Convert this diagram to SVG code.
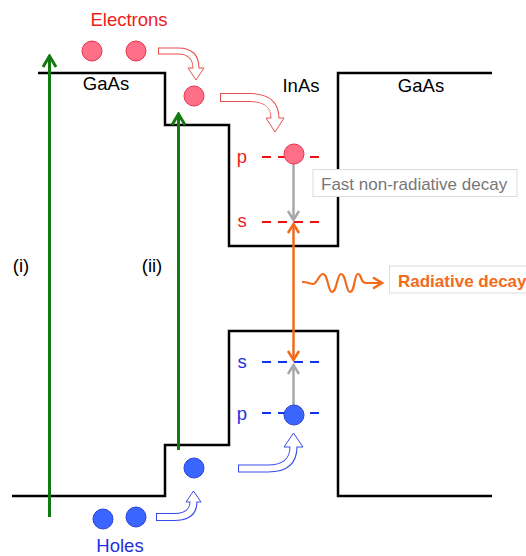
<svg xmlns="http://www.w3.org/2000/svg" width="526" height="556" viewBox="0 0 526 556">
<style>
.band{fill:none;stroke:#000;stroke-width:2.5;stroke-linejoin:miter}
.lbl{font-family:"Liberation Sans",Arial,sans-serif;font-size:18.5px}
.blk{fill:#000}
.red{fill:#ee1c1c}
.blue{fill:#1f2fe0}
.el{fill:#ff7088;stroke:#e8334a;stroke-width:1}
.ho{fill:#3a66ff;stroke:#2a44d8;stroke-width:1}
.dr{fill:none;stroke:#ee1111;stroke-width:2;stroke-dasharray:9 7}
.db{fill:none;stroke:#1133ee;stroke-width:2;stroke-dasharray:9 7}
.green{fill:none;stroke:#117a11;stroke-width:3;marker-end:url(#mg)}
.gray{fill:none;stroke:#a8a8a8;stroke-width:2.5;marker-end:url(#mgr)}
.orange{fill:none;stroke:#f26b1d;stroke-width:2.5}
.box{fill:#fff;stroke:#dcdcdc;stroke-width:1}
.hr{fill:#fff;stroke:#e85050;stroke-width:1}
.hb{fill:#fff;stroke:#3a4ae8;stroke-width:1}
</style>
<defs>
<marker id="mg" viewBox="-14 -9 16 18" markerWidth="16" markerHeight="18" refX="0" refY="0" orient="auto" markerUnits="userSpaceOnUse"><path d="M-11,-6.5 L0,0 L-11,6.5" fill="none" stroke="#117a11" stroke-width="3"/></marker>
<marker id="mgr" viewBox="-14 -9 16 18" markerWidth="16" markerHeight="18" refX="0" refY="0" orient="auto" markerUnits="userSpaceOnUse"><path d="M-9,-5.5 L0,0 L-9,5.5" fill="none" stroke="#a8a8a8" stroke-width="2.5"/></marker>
<marker id="mo" viewBox="-14 -9 16 18" markerWidth="16" markerHeight="18" refX="0" refY="0" orient="auto-start-reverse" markerUnits="userSpaceOnUse"><path d="M-9,-5.5 L0,0 L-9,5.5" fill="none" stroke="#f26b1d" stroke-width="2.5"/></marker>
</defs>

<g id="bands">
<path class="band" d="M38,73 H165 V125 H229 V246 H338 V73 H492"/>
<path class="band" d="M12,496 H165 V445 H229 V331 H338 V496 H492"/>
</g>

<g id="labels">
<text class="lbl blk" x="106" y="90" text-anchor="middle">GaAs</text>
<text class="lbl blk" x="301" y="92" text-anchor="middle">InAs</text>
<text class="lbl blk" x="421" y="92" text-anchor="middle">GaAs</text>
<text class="lbl red" x="129" y="26" text-anchor="middle">Electrons</text>
<text class="lbl blue" x="120" y="552" text-anchor="middle">Holes</text>
<text class="lbl blk" x="21" y="272" text-anchor="middle">(i)</text>
<text class="lbl blk" x="152" y="272" text-anchor="middle">(ii)</text>
<text class="lbl red" x="242" y="163" text-anchor="middle">p</text>
<text class="lbl red" x="242" y="227" text-anchor="middle">s</text>
<text class="lbl blue" x="242" y="368" text-anchor="middle">s</text>
<text class="lbl blue" x="242" y="420" text-anchor="middle">p</text>
</g>

<g id="levels">
<line class="dr" x1="262" y1="157" x2="322" y2="157"/>
<line class="dr" x1="262" y1="222" x2="322" y2="222"/>
<line class="db" x1="262" y1="362" x2="322" y2="362"/>
<line class="db" x1="262" y1="413" x2="322" y2="413"/>
</g>

<g id="connectors">
<line class="green" x1="49.5" y1="517" x2="49.5" y2="56"/>
<line class="green" x1="178.5" y1="450" x2="178.5" y2="114"/>
<line class="gray" x1="293.5" y1="164" x2="293.5" y2="220"/>
<line class="gray" x1="293.5" y1="405" x2="293.5" y2="365"/>
<line class="orange" x1="293.5" y1="224" x2="293.5" y2="360" style="marker-start:url(#mo);marker-end:url(#mo)"/>
<path class="orange" d="M302,282 C308,282 310,284 313,284 C317,284 319,274 323,274 C328,274 328,292 332,292 C337,292 337,274 341,274 C346,274 346,292 350,292 C355,292 354,274 358,274 C362,274 360,283 366,283 L382,283" style="stroke-width:2.2;marker-end:url(#mo)"/>
</g>

<g id="hollow-arrows">
<g id="ha1">
<polygon class="hr" points="188,68 204,68 196,80"/>
<path d="M158,51 H178 Q196,51 196,68" fill="none" stroke="#e85050" stroke-width="7"/>
<path d="M159,51 H178 Q196,51 196,69" fill="none" stroke="#fff" stroke-width="5"/>
</g>
<g id="ha2">
<polygon class="hr" points="266,118 284,118 275,132"/>
<path d="M220,97.5 H250 Q275,97.5 275,118" fill="none" stroke="#e85050" stroke-width="9"/>
<path d="M221,97.5 H250 Q275,97.5 275,119" fill="none" stroke="#fff" stroke-width="7"/>
</g>
<g id="ha3">
<polygon class="hb" points="284,447 303,447 293.5,433"/>
<path d="M238,468.5 H268 Q293.5,468.5 293.5,447" fill="none" stroke="#3a4ae8" stroke-width="8"/>
<path d="M239,468.5 H268 Q293.5,468.5 293.5,446" fill="none" stroke="#fff" stroke-width="6"/>
</g>
<g id="ha4">
<polygon class="hb" points="186,502 201,502 193.5,491"/>
<path d="M156,517 H174 Q193.5,517 193.5,502" fill="none" stroke="#3a4ae8" stroke-width="8"/>
<path d="M157,517 H174 Q193.5,517 193.5,501" fill="none" stroke="#fff" stroke-width="6"/>
</g>
</g>

<g id="electrons">
<circle class="el" cx="92" cy="51" r="10"/>
<circle class="el" cx="136" cy="51" r="10"/>
<circle class="el" cx="194" cy="96" r="10"/>
<circle class="el" cx="294" cy="154" r="10"/>
</g>

<g id="holes">
<circle class="ho" cx="103" cy="519" r="10"/>
<circle class="ho" cx="136" cy="517" r="10"/>
<circle class="ho" cx="194" cy="468" r="10"/>
<circle class="ho" cx="294" cy="415" r="10"/>
</g>

<g id="fast-decay">
<rect class="box" x="313" y="169.5" width="204" height="27"/>
<text x="321" y="190" style="font-family:'Liberation Sans',Arial,sans-serif;font-size:17px;fill:#777">Fast non-radiative decay</text>
</g>

<g id="radiative-decay">
<rect class="box" x="389.5" y="266" width="145" height="27"/>
<text x="398" y="287" style="font-family:'Liberation Sans',Arial,sans-serif;font-size:17px;font-weight:bold;fill:#f26b1d">Radiative decay</text>
</g>
</svg>
